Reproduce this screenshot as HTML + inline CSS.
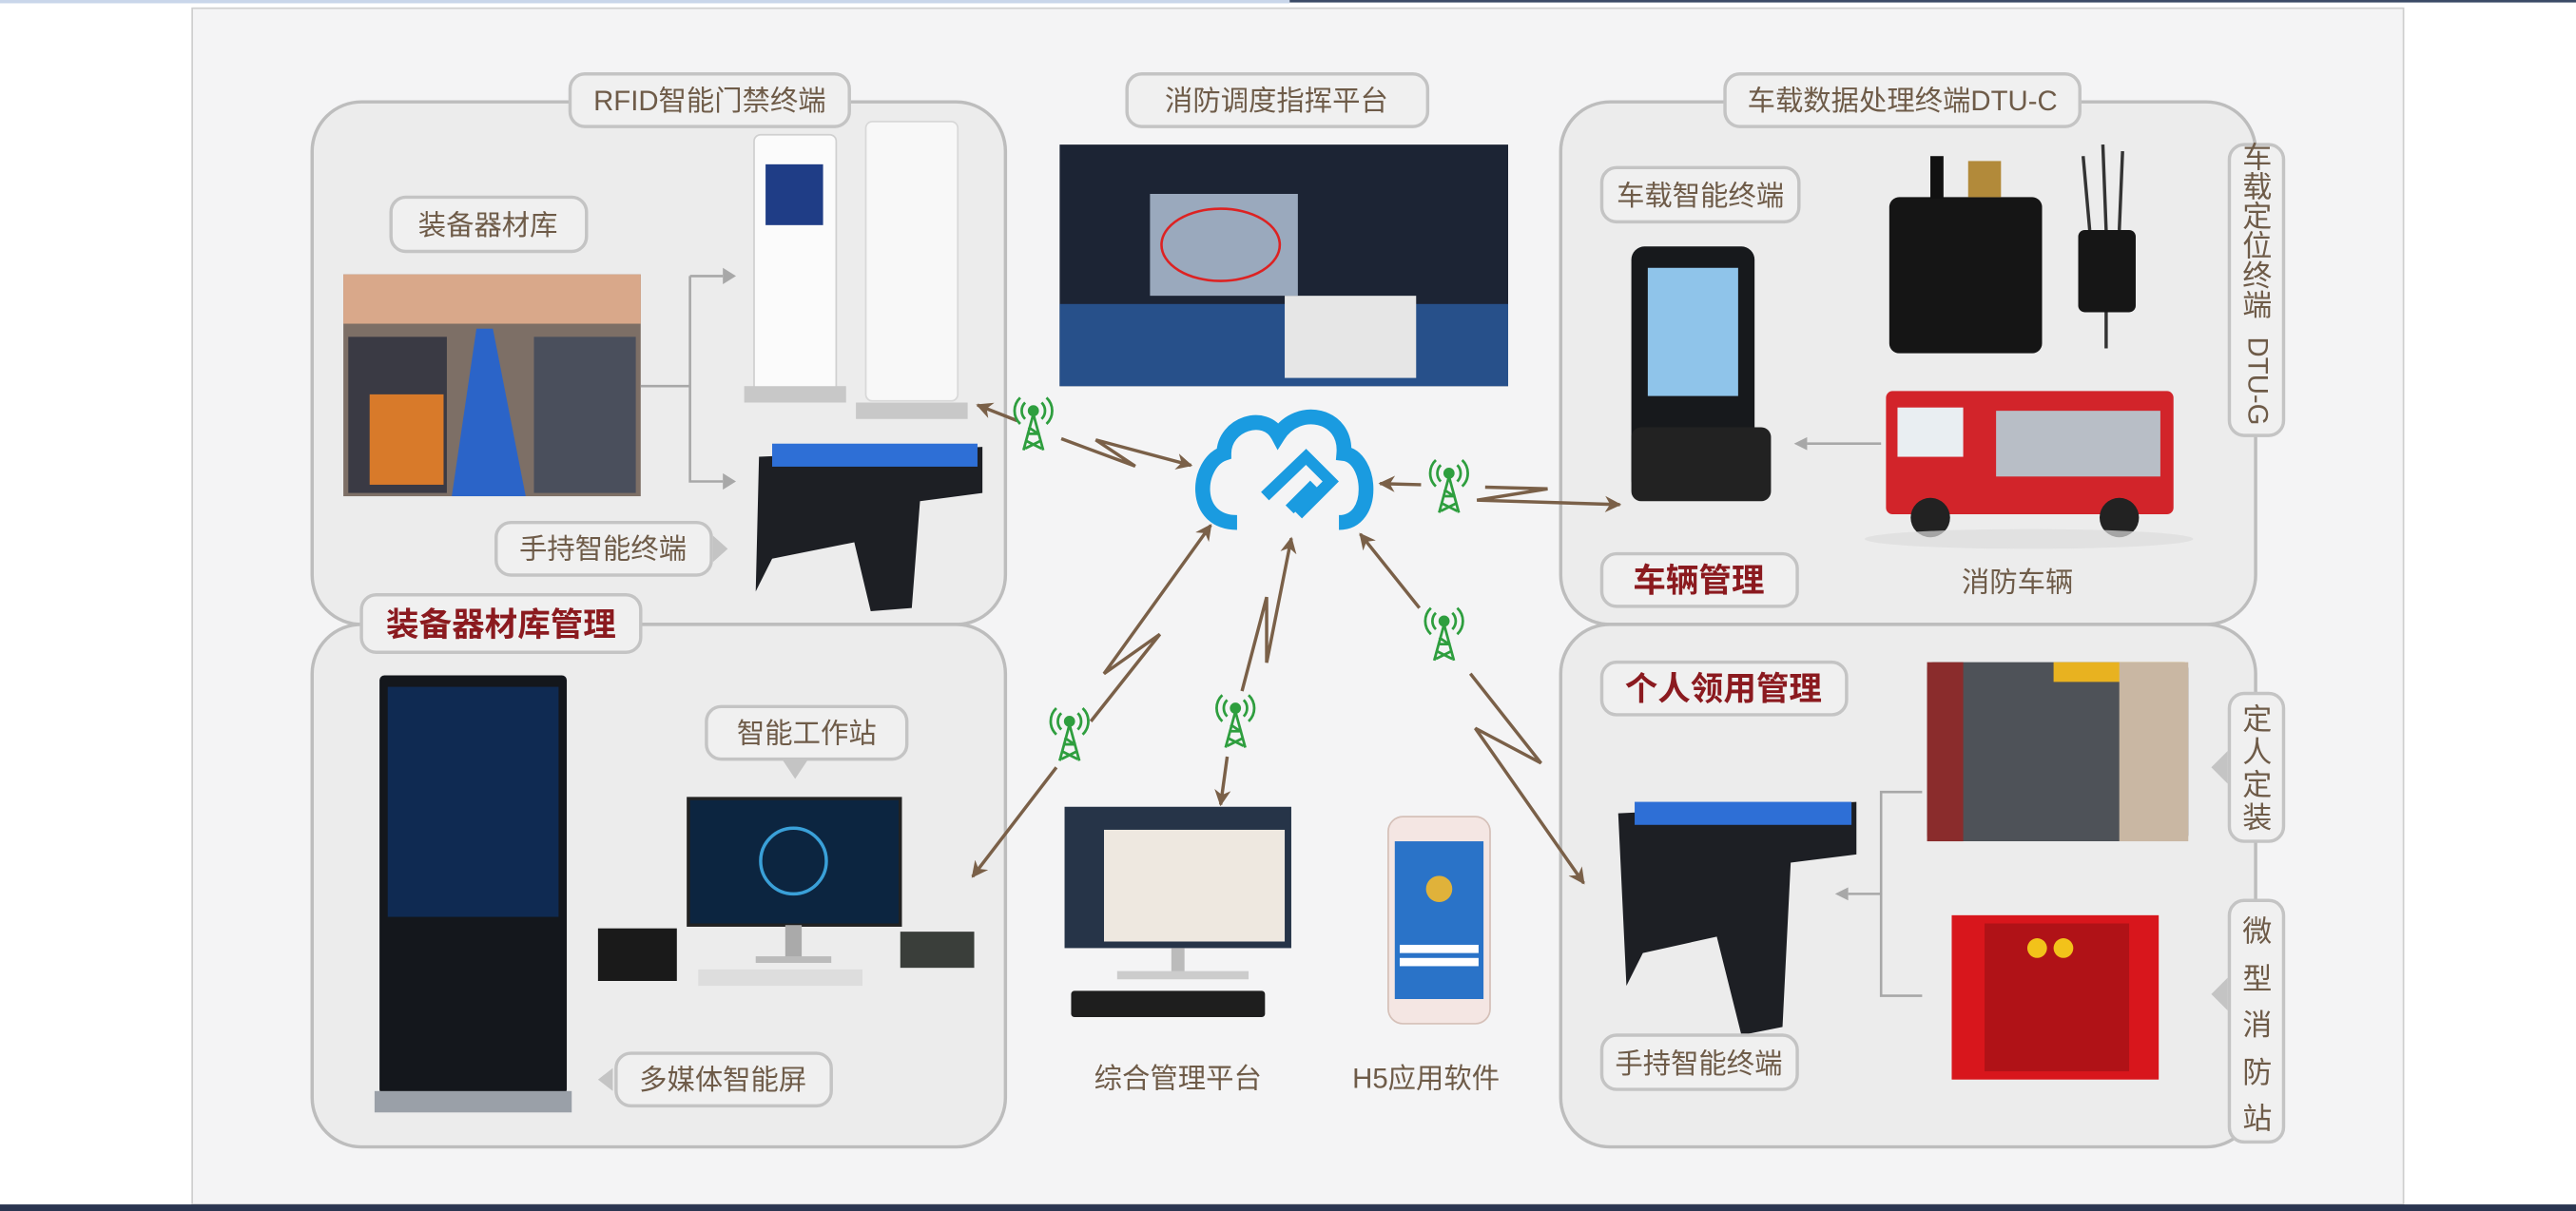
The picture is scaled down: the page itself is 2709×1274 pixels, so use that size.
<!DOCTYPE html>
<html><head><meta charset="utf-8"><style>
html,body{margin:0;padding:0;background:#fff;overflow:hidden}
svg{display:block}
text{font-family:"Liberation Sans","Noto Sans CJK SC",sans-serif}
</style></head><body>
<svg width="2709" height="1274" viewBox="0 0 1568 737" preserveAspectRatio="none" xmlns="http://www.w3.org/2000/svg">
<defs>
<marker id="ah" viewBox="0 0 10 10" refX="9" refY="5" markerWidth="5" markerHeight="5" orient="auto"><path d="M0,0 L10,5 L0,10 L3,5 Z" fill="#7a6048"/></marker>
<g id="tw" stroke="#2e9e3e" fill="none" stroke-width="1.6">
<circle cx="0" cy="-12" r="2.6" fill="#2e9e3e"/>
<path d="M-5,-17 A7,7 0 0 0 -5,-7 M5,-17 A7,7 0 0 1 5,-7 M-8,-20 A11,11 0 0 0 -8,-4 M8,-20 A11,11 0 0 1 8,-4"/>
<path d="M0,-10 L-6,12 M0,-10 L6,12 M-4,2 L4,2 M-5,6 L5,11 M5,6 L-5,11 M-3,-2 L3,2"/>
</g>
</defs>
<rect x="0" y="0" width="1568" height="737" fill="#fff"/>
<rect x="0" y="0" width="785" height="2" fill="#c9d6ea"/>
<rect x="785" y="0" width="783" height="1.5" fill="#3b4a66"/>
<rect x="117" y="5" width="1346" height="728" fill="#f4f4f5" stroke="#cfcfcf" stroke-width="1"/>
<rect x="0" y="733" width="1568" height="4" fill="#2a3550"/>

<g fill="#ececec" stroke="#bdbdbd" stroke-width="2">
<rect x="190" y="62" width="422" height="318" rx="30"/>
<rect x="190" y="380" width="422" height="318" rx="30"/>
<rect x="950" y="62" width="423" height="318" rx="30"/>
<rect x="950" y="380" width="423" height="318" rx="30"/>
</g>

<rect x="209" y="167" width="181" height="135" fill="#7d6f66"/>
<rect x="209" y="167" width="181" height="30" fill="#d9a88a"/>
<polygon points="275,302 320,302 300,200 290,200" fill="#2b64c8"/>
<rect x="212" y="205" width="60" height="95" fill="#3a3a44"/>
<rect x="225" y="240" width="45" height="55" fill="#d87a2a"/>
<rect x="325" y="205" width="62" height="95" fill="#4a4f5c"/>
<rect x="459" y="82" width="50" height="160" rx="4" fill="#fbfbfb" stroke="#d0d0d0"/>
<rect x="466" y="100" width="35" height="37" fill="#1f3d86"/>
<rect x="453" y="235" width="62" height="10" fill="#c8c8c8"/>
<rect x="527" y="74" width="56" height="170" rx="4" fill="#f8f8f8" stroke="#d8d8d8"/>
<rect x="521" y="245" width="68" height="10" fill="#c8c8c8"/>
<path d="M462,278 L598,272 L598,300 L560,305 L555,370 L530,372 L520,330 L470,340 L460,360 Z" fill="#1d1f24"/>
<rect x="470" y="270" width="125" height="14" fill="#2e6fd6"/>
<rect x="645" y="88" width="273" height="147" fill="#1c2434"/>
<rect x="700" y="118" width="90" height="62" fill="#9aa9bd"/>
<ellipse cx="743" cy="149" rx="36" ry="22" fill="none" stroke="#d22" stroke-width="1.5"/>
<rect x="645" y="185" width="273" height="50" fill="#27508a"/>
<rect x="782" y="180" width="80" height="50" fill="#e6e6e6"/>
<path d="M753,318 C725,318 728,282 745,276 C745,258 770,250 778,265 C790,246 820,252 818,276 C835,278 838,318 815,318" fill="none" stroke="#1a9be0" stroke-width="9"/>
<path d="M770,302 L795,278 L810,293 L790,313 M785,310 L800,295" fill="none" stroke="#1a9be0" stroke-width="7"/>
<rect x="993" y="150" width="75" height="150" rx="8" fill="#17191c"/>
<rect x="1003" y="163" width="55" height="78" fill="#8fc4ea"/>
<rect x="993" y="260" width="85" height="45" rx="6" fill="#222"/>
<rect x="1150" y="120" width="93" height="95" rx="6" fill="#151515"/>
<rect x="1175" y="95" width="8" height="26" fill="#111"/>
<rect x="1198" y="98" width="20" height="22" fill="#b28a3a"/>
<rect x="1265" y="140" width="35" height="50" rx="4" fill="#161616"/>
<path d="M1268,95 L1272,140 M1280,88 L1282,140 M1292,92 L1290,140 M1282,190 L1282,212" stroke="#333" stroke-width="2"/>
<rect x="1148" y="238" width="175" height="75" rx="4" fill="#d2242a"/>
<rect x="1155" y="248" width="40" height="30" fill="#e9eef2"/>
<rect x="1215" y="250" width="100" height="40" fill="#b8bec6"/>
<circle cx="1175" cy="315" r="12" fill="#222"/><circle cx="1290" cy="315" r="12" fill="#222"/>
<ellipse cx="1235" cy="328" rx="100" ry="6" fill="#ddd" opacity=".7"/>
<rect x="231" y="411" width="114" height="255" rx="3" fill="#14171c"/>
<rect x="236" y="418" width="104" height="140" fill="#0f2a52"/>
<rect x="228" y="664" width="120" height="13" fill="#9aa0a8"/>
<rect x="419" y="486" width="129" height="77" fill="#0c2540" stroke="#222" stroke-width="2"/>
<circle cx="483" cy="524" r="20" fill="none" stroke="#3aa0d8" stroke-width="2"/>
<rect x="478" y="563" width="10" height="20" fill="#aaa"/>
<rect x="460" y="582" width="46" height="4" fill="#bbb"/>
<rect x="425" y="590" width="100" height="10" fill="#ddd"/>
<rect x="364" y="565" width="48" height="32" fill="#1a1a1a"/>
<rect x="548" y="567" width="45" height="22" fill="#3a3e3a"/>
<rect x="648" y="491" width="138" height="86" fill="#263448"/>
<rect x="672" y="505" width="110" height="68" fill="#eee8e0"/>
<rect x="713" y="577" width="8" height="16" fill="#bbb"/>
<rect x="680" y="591" width="80" height="5" fill="#ccc"/>
<rect x="652" y="603" width="118" height="16" rx="2" fill="#1e1e1e"/>
<rect x="845" y="497" width="62" height="126" rx="9" fill="#f4e6e3" stroke="#d5c0b8"/>
<rect x="849" y="512" width="54" height="96" fill="#2a73c8"/>
<circle cx="876" cy="541" r="8" fill="#e0b23a"/>
<rect x="852" y="575" width="48" height="5" fill="#fff"/><rect x="852" y="583" width="48" height="5" fill="#fff"/>
<path d="M985,495 L1130,488 L1130,520 L1090,525 L1085,625 L1060,630 L1045,570 L1000,580 L990,600 Z" fill="#1d1f24"/>
<rect x="995" y="488" width="132" height="14" fill="#2e6fd6"/>
<rect x="1173" y="403" width="159" height="109" rx="4" fill="#4e5258"/>
<rect x="1250" y="403" width="80" height="12" fill="#e8b220"/>
<rect x="1290" y="403" width="42" height="109" fill="#c9b7a3"/>
<rect x="1173" y="403" width="22" height="109" fill="#8a2c2c"/>
<rect x="1188" y="557" width="126" height="100" fill="#d8161c"/>
<rect x="1208" y="562" width="88" height="90" fill="#b01217"/>
<circle cx="1240" cy="577" r="6" fill="#f2c21a"/><circle cx="1256" cy="577" r="6" fill="#f2c21a"/>

<g fill="none" stroke="#a8a8a8" stroke-width="1.5">
<path d="M390,235 L420,235 M420,168 L420,293 L440,293 M420,168 L440,168"/>
<path d="M1170,482 L1145,482 L1145,606 L1170,606 M1145,544 L1125,544"/>
<path d="M1145,270 L1100,270"/>
</g>
<g fill="#a8a8a8">
<polygon points="440,163 448,168 440,173"/><polygon points="440,288 448,293 440,298"/>
<polygon points="1125,540 1117,544 1125,548"/>
<polygon points="1100,266 1092,270 1100,274"/>
</g>

<g fill="none" stroke="#7a6048" stroke-width="2">
<path d="M619,256 L595,246.5" marker-end="url(#ah)"/>
<path d="M646,267 L691,283.7 L667,267.7 L725,283.2" marker-end="url(#ah)"/>
<path d="M865,295 L840,294.3" marker-end="url(#ah)"/>
<path d="M904,296.5 L942,297.5 L899,304.4 L986,307.1" marker-end="url(#ah)"/>
<path d="M664,439 L706,386 L672,410 L737,319.6" marker-end="url(#ah)"/>
<path d="M643,467 L592,533.5" marker-end="url(#ah)"/>
<path d="M756,420.6 L771,363.4 L771,403.3 L786,327.6" marker-end="url(#ah)"/>
<path d="M747,460.5 L743,489.7" marker-end="url(#ah)"/>
<path d="M864,370 L828,325" marker-end="url(#ah)"/>
<path d="M895,410 L938,464.4 L898,443.2 L964,537.5" marker-end="url(#ah)"/>
</g>
<use href="#tw" x="629" y="262"/>
<use href="#tw" x="882" y="300"/>
<use href="#tw" x="651" y="451"/>
<use href="#tw" x="752" y="443"/>
<use href="#tw" x="879" y="390"/>

<g fill="#f0f0f0" stroke="#c4c4c4" stroke-width="2">
<rect x="347" y="45" width="170" height="32" rx="9"/>
<rect x="686" y="45" width="183" height="32" rx="9"/>
<rect x="1050" y="45" width="216" height="32" rx="9"/>
<rect x="238" y="120" width="119" height="33" rx="9"/>
<rect x="302" y="318" width="131" height="32" rx="9"/>
<rect x="220" y="362" width="170" height="35" rx="9"/>
<rect x="975" y="102" width="120" height="33" rx="9"/>
<rect x="975" y="337" width="119" height="32" rx="9"/>
<rect x="1357" y="88" width="33" height="177" rx="9"/>
<rect x="975" y="403" width="149" height="32" rx="9"/>
<rect x="1357" y="422" width="33" height="90" rx="9"/>
<rect x="1357" y="548" width="33" height="147" rx="9"/>
<rect x="975" y="630" width="119" height="33" rx="9"/>
<rect x="430" y="430" width="122" height="32" rx="9"/>
<rect x="375" y="641" width="131" height="32" rx="9"/>
</g>
<g fill="#c4c4c4">
<polygon points="434,326 443,334 434,342"/>
<polygon points="476,462 492,462 484,474"/>
<polygon points="373,650 364,657 373,664"/>
<polygon points="1356,457 1346,467 1356,477"/>
<polygon points="1356,595 1346,605 1356,615"/>
</g>
<g fill="#6e5b48" font-size="17" text-anchor="middle">
<text x="432" y="67">RFID智能门禁终端</text>
<text x="777" y="67">消防调度指挥平台</text>
<text x="1158" y="67">车载数据处理终端DTU-C</text>
<text x="297" y="143">装备器材库</text>
<text x="367" y="340">手持智能终端</text>
<text x="1035" y="125">车载智能终端</text>
<text x="1228" y="360">消防车辆</text>
<text x="1034" y="653">手持智能终端</text>
<text x="491" y="452">智能工作站</text>
<text x="440" y="663">多媒体智能屏</text>
<text x="717" y="662">综合管理平台</text>
<text x="868" y="662">H5应用软件</text>
</g>
<g fill="#6e5b48" font-size="18" text-anchor="middle">
<text x="1374" y="102">车</text><text x="1374" y="120">载</text><text x="1374" y="138">定</text><text x="1374" y="156">位</text><text x="1374" y="174">终</text><text x="1374" y="192">端</text>
<text x="1374" y="232" transform="rotate(90 1374 232)" dominant-baseline="central" font-size="17">DTU-G</text>
<text x="1374" y="444">定</text><text x="1374" y="464">人</text><text x="1374" y="484">定</text><text x="1374" y="504">装</text>
<text x="1374" y="573">微</text><text x="1374" y="602">型</text><text x="1374" y="630">消</text><text x="1374" y="659">防</text><text x="1374" y="687">站</text>
</g>
<g fill="#8b1a1f" font-size="20" font-weight="bold" text-anchor="middle">
<text x="305" y="387">装备器材库管理</text>
<text x="1034" y="360">车辆管理</text>
<text x="1049" y="426">个人领用管理</text>
</g>
</svg>
</body></html>
